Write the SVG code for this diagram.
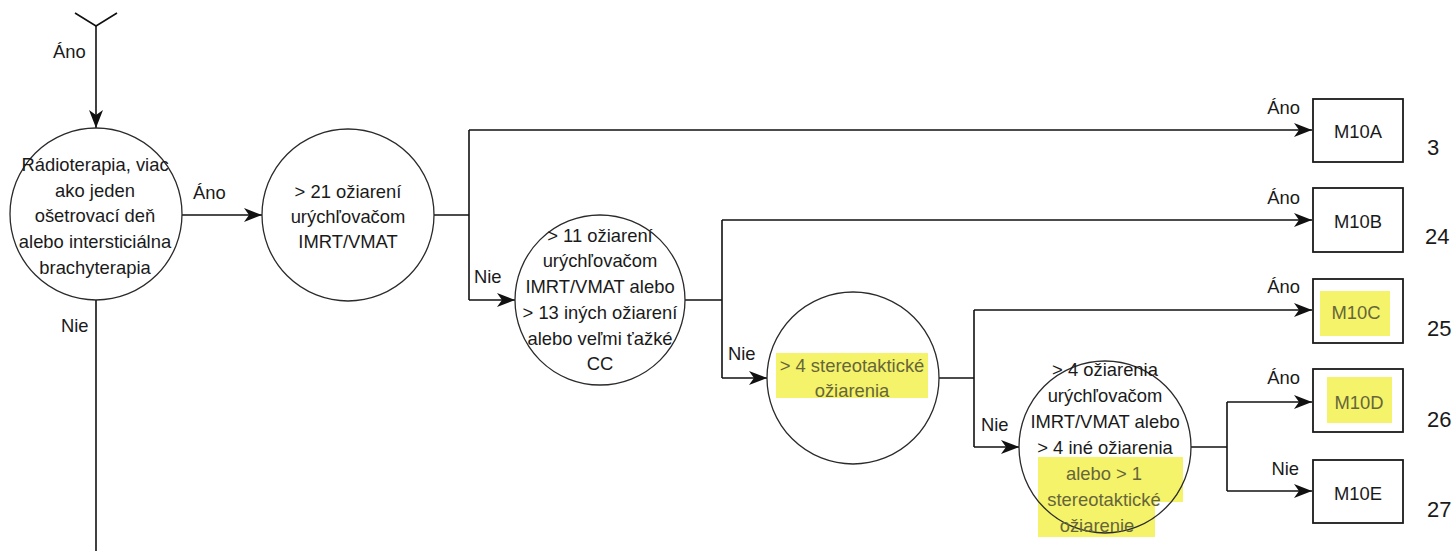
<svg xmlns="http://www.w3.org/2000/svg" width="1454" height="551" viewBox="0 0 1454 551">
<style>
text{font-family:"Liberation Sans",Arial,sans-serif;font-size:18.4px;fill:#1a1a1a}
.c{text-anchor:middle}
.e{text-anchor:end}
.hl{fill:#66663a}
.num{font-size:22px}
.node{fill:none;stroke:#2a2a2a;stroke-width:1.3}
.box{fill:#fff;stroke:#1a1a1a;stroke-width:1.8}
.mark{fill:#f5f36a;stroke:none}
.conn{fill:none;stroke:#111;stroke-width:1.6}
</style>
<defs>
<marker id="ah" markerUnits="userSpaceOnUse" markerWidth="20" markerHeight="16" refX="18" refY="7" orient="auto">
<path d="M0,0 L18,7 L0,14 L5,7 z" fill="#111"/>
</marker>
</defs>
<rect width="1454" height="551" fill="#fff"/>
<g id="connectors">
<path class="conn" d="M75,13 L96,26 L117,13"/>
<path class="conn" d="M96,26 L96,128" marker-end="url(#ah)"/>
<path class="conn" d="M96,300 L96,551"/>
<path class="conn" d="M182,215 L262,215" marker-end="url(#ah)"/>
<path class="conn" d="M434,215 L469,215"/>
<path class="conn" d="M469,130 L469,300"/>
<path class="conn" d="M469,130 L1312,130" marker-end="url(#ah)"/>
<path class="conn" d="M469,300 L515,300" marker-end="url(#ah)"/>
<path class="conn" d="M685,300 L722,300"/>
<path class="conn" d="M722,220 L722,378"/>
<path class="conn" d="M722,220 L1312,220" marker-end="url(#ah)"/>
<path class="conn" d="M722,378 L767,378" marker-end="url(#ah)"/>
<path class="conn" d="M939,378 L974,378"/>
<path class="conn" d="M974,310 L974,447"/>
<path class="conn" d="M974,310 L1312,310" marker-end="url(#ah)"/>
<path class="conn" d="M974,447 L1019,447" marker-end="url(#ah)"/>
<path class="conn" d="M1191,447 L1227,447"/>
<path class="conn" d="M1227,402 L1227,491"/>
<path class="conn" d="M1227,402 L1312,402" marker-end="url(#ah)"/>
<path class="conn" d="M1227,491 L1312,491" marker-end="url(#ah)"/>
<text x="53" y="58">Áno</text>
<text x="193" y="199">Áno</text>
<text x="61" y="332">Nie</text>
<text x="474" y="283">Nie</text>
<text x="728" y="360">Nie</text>
<text x="981" y="431">Nie</text>
<text class="e" x="1300" y="114">Áno</text>
<text class="e" x="1300" y="204">Áno</text>
<text class="e" x="1300" y="293">Áno</text>
<text class="e" x="1300" y="384">Áno</text>
<text class="e" x="1299" y="475">Nie</text>
</g>
<g id="n1">
<circle class="node" cx="96" cy="214" r="86"/>
<text class="c" x="95" y="171">Rádioterapia, viac</text>
<text class="c" x="95" y="197">ako jeden</text>
<text class="c" x="95" y="222">ošetrovací deň</text>
<text class="c" x="95" y="248">alebo intersticiálna</text>
<text class="c" x="95" y="274">brachyterapia</text>
</g>
<g id="n2">
<circle class="node" cx="348" cy="215" r="86"/>
<text class="c" x="348" y="198">&gt; 21 ožiarení</text>
<text class="c" x="348" y="223">urýchľovačom</text>
<text class="c" x="348" y="248">IMRT/VMAT</text>
</g>
<g id="n3">
<circle class="node" cx="600" cy="300" r="85"/>
<text class="c" x="600" y="242">&gt; 11 ožiarení</text>
<text class="c" x="600" y="267">urýchľovačom</text>
<text class="c" x="600" y="293">IMRT/VMAT alebo</text>
<text class="c" x="600" y="319">&gt; 13 iných ožiarení</text>
<text class="c" x="600" y="345">alebo veľmi ťažké</text>
<text class="c" x="600" y="370">CC</text>
</g>
<g id="n4">
<rect class="mark" x="776" y="353" width="152" height="45"/>
<circle class="node" cx="853" cy="378" r="86"/>
<text class="c hl" x="852" y="372">&gt; 4 stereotaktické</text>
<text class="c hl" x="852" y="397">ožiarenia</text>
</g>
<g id="n5">
<path class="mark" d="M1038,457 L1183,457 L1183,502 L1155,502 L1155,537 L1038,537 z"/>
<circle class="node" cx="1105" cy="447" r="86"/>
<text class="c" x="1105" y="376">&gt; 4 ožiarenia</text>
<text class="c" x="1105" y="402">urýchľovačom</text>
<text class="c" x="1105" y="428">IMRT/VMAT alebo</text>
<text class="c" x="1105" y="454">&gt; 4 iné ožiarenia</text>
<text class="c hl" x="1104" y="480">alebo &gt; 1</text>
<text class="c hl" x="1104" y="506">stereotaktické</text>
<text class="c hl" x="1097" y="532">ožiarenie</text>
</g>
<g id="m10a">
<rect class="box" x="1313" y="99" width="90" height="63"/>
<text class="c" x="1358" y="138">M10A</text>
<text class="num" x="1427" y="155">3</text>
</g>
<g id="m10b">
<rect class="box" x="1313" y="188" width="90" height="64"/>
<text class="c" x="1358" y="228">M10B</text>
<text class="num" x="1425" y="244">24</text>
</g>
<g id="m10c">
<rect class="box" x="1313" y="279" width="90" height="64"/>
<rect class="mark" x="1320" y="291" width="70" height="45"/>
<text class="c hl" x="1356" y="319">M10C</text>
<text class="num" x="1427" y="336">25</text>
</g>
<g id="m10d">
<rect class="box" x="1313" y="369" width="90" height="63"/>
<rect class="mark" x="1327" y="377" width="65" height="46"/>
<text class="c hl" x="1359" y="409">M10D</text>
<text class="num" x="1427" y="427">26</text>
</g>
<g id="m10e">
<rect class="box" x="1313" y="460" width="90" height="63"/>
<text class="c" x="1358" y="500">M10E</text>
<text class="num" x="1427" y="517">27</text>
</g>
</svg>
